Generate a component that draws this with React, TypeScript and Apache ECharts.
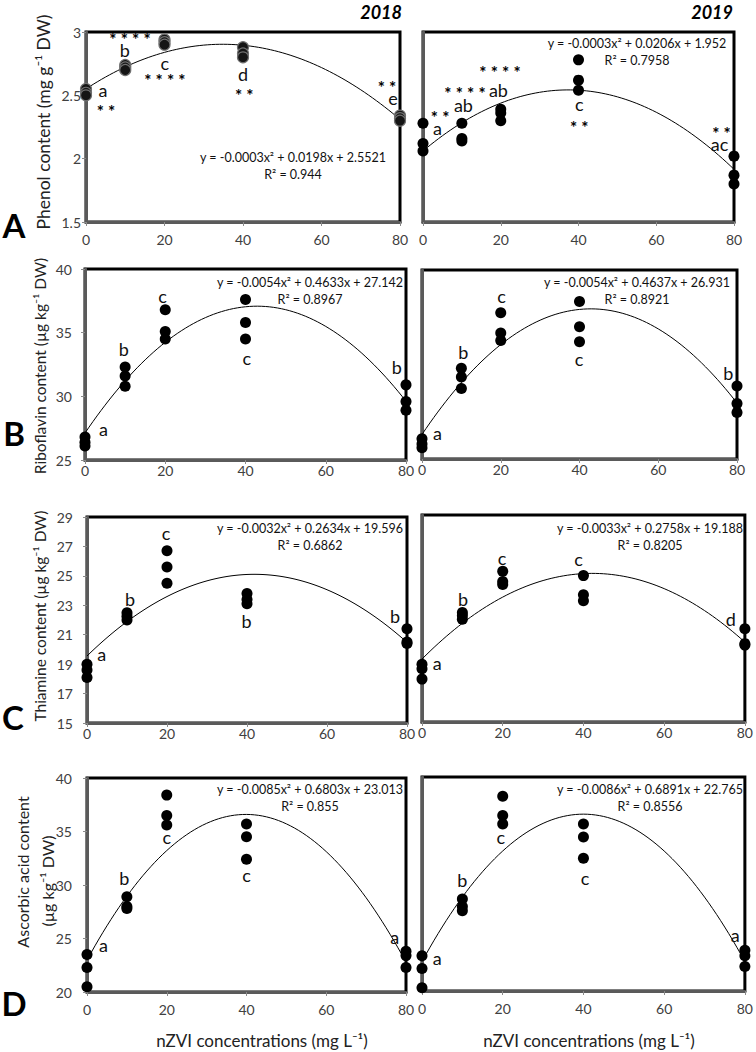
import React, { useEffect, useRef } from "react";
import * as echarts from "echarts";

// nZVI doses (mg/L)
const doses = [0, 10, 20, 40, 80];

// three replicate values per dose
const phenol2018 = [[2.55, 2.52, 2.5], [2.74, 2.72, 2.7], [2.94, 2.92, 2.9], [2.88, 2.83, 2.8], [2.34, 2.32, 2.3]];
const phenol2019 = [[2.28, 2.12, 2.06], [2.28, 2.16, 2.14], [2.39, 2.36, 2.3], [2.78, 2.62, 2.54], [2.02, 1.87, 1.8]];
const riboflavin2018 = [[26.8, 26.4, 26.1], [32.3, 31.6, 30.8], [36.8, 35.1, 34.5], [37.6, 35.8, 34.5], [30.9, 29.6, 28.9]];
const riboflavin2019 = [[26.6, 26.2, 25.9], [32.2, 31.5, 30.6], [36.6, 35.0, 34.4], [37.5, 35.5, 34.3], [30.8, 29.4, 28.7]];
const thiamine2018 = [[19.0, 18.6, 18.1], [22.5, 22.25, 22.0], [26.7, 25.6, 24.5], [23.8, 23.4, 23.1], [21.4, 20.5, 20.4]];
const thiamine2019 = [[18.9, 18.6, 17.9], [22.4, 22.2, 21.95], [25.2, 24.5, 24.3], [24.9, 23.6, 23.2], [21.3, 20.3, 20.2]];
const ascorbic2018 = [[23.5, 22.3, 20.5], [28.9, 28.0, 27.8], [38.4, 36.5, 35.6], [35.7, 34.5, 32.4], [23.8, 23.4, 22.3]];
const ascorbic2019 = [[23.3, 22.1, 20.3], [28.6, 27.9, 27.5], [38.2, 36.4, 35.6], [35.6, 34.4, 32.4], [23.8, 23.3, 22.3]];

// significance annotations: [x, y, text]
const phenol2018Marks: [number, number, string][] = [
  [11.2, 2.97, "* * * *"], [9.9, 2.855, "b"], [20.1, 2.755, "c"], [20.1, 2.645, "* * * *"],
  [4.3, 2.54, "a"], [5.1, 2.405, "* *"], [40, 2.67, "d"], [40.3, 2.53, "* *"], [76.7, 2.59, "* *"], [78.2, 2.48, "e"],
];
const phenol2019Marks: [number, number, string][] = [
  [4.4, 2.355, "* *"], [3.7, 2.245, "a"], [10.8, 2.55, "* * * *"], [10.4, 2.42, "ab"], [19.8, 2.715, "* * * *"],
  [19.4, 2.54, "ab"], [40.2, 2.43, "c"], [40.2, 2.28, "* *"], [76.8, 2.23, "* *"], [76.3, 2.115, "ac"],
];
const riboflavin2018Marks: [number, number, string][] = [[4.6, 27.4, "a"], [9.7, 33.7, "b"], [19.3, 37.85, "c"], [40.3, 33.0, "c"], [77.7, 32.3, "b"]];
const riboflavin2019Marks: [number, number, string][] = [[3.9, 27.1, "a"], [10.5, 33.5, "b"], [20.2, 37.9, "c"], [39.9, 32.9, "c"], [77.8, 31.8, "b"]];
const thiamine2018Marks: [number, number, string][] = [[3.7, 19.7, "a"], [10.75, 23.45, "b"], [19.75, 27.9, "c"], [39.9, 21.9, "b"], [77, 22.3, "b"]];
const thiamine2019Marks: [number, number, string][] = [[3.8, 19.0, "a"], [10.2, 23.35, "b"], [19.85, 26.1, "c"], [38.8, 26.0, "c"], [76.5, 22.0, "d"]];
const ascorbic2018Marks: [number, number, string][] = [[4.1, 24.4, "a"], [9.35, 30.7, "b"], [20, 34.45, "c"], [40, 30.9, "c"], [77.2, 25.1, "a"]];
const ascorbic2019Marks: [number, number, string][] = [[3.75, 23.1, "a"], [10, 30.4, "b"], [19.55, 34.35, "c"], [40.4, 30.6, "c"], [77.6, 25.2, "a"]];

const equations = [
  ["y = -0.0003x² + 0.0198x + 2.5521", "R² = 0.944"],
  ["y = -0.0003x² + 0.0206x + 1.952", "R² = 0.7958"],
  ["y = -0.0054x² + 0.4633x + 27.142", "R² = 0.8967"],
  ["y = -0.0054x² + 0.4637x + 26.931", "R² = 0.8921"],
  ["y = -0.0032x² + 0.2634x + 19.596", "R² = 0.6862"],
  ["y = -0.0033x² + 0.2758x + 19.188", "R² = 0.8205"],
  ["y = -0.0085x² + 0.6803x + 23.013", "R² = 0.855"],
  ["y = -0.0086x² + 0.6891x + 22.765", "R² = 0.8556"],
];

const yTitles = ["Phenol content (mg g⁻¹ DW)", "Riboflavin content (µg kg⁻¹ DW)", "Thiamine content (µg kg⁻¹ DW)"];
const yTitleD = ["Ascorbic acid content", "(µg kg⁻¹ DW)"];
const xTitle = "nZVI concentrations (mg L⁻¹)";
const years = ["2018", "2019"];
const panelLetters = ["A", "B", "C", "D"];

const yRanges = [
  { min: 1.5, max: 3, interval: 0.5 },
  { min: 25, max: 40, interval: 5 },
  { min: 15, max: 29, interval: 2 },
  { min: 20, max: 40, interval: 5 },
];

const FONT = "Lato, 'Open Sans', sans-serif";

function fitQuad(pts: number[][]) {
  let s0 = 0, s1 = 0, s2 = 0, s3 = 0, s4 = 0, t0 = 0, t1 = 0, t2 = 0;
  for (const [x, y] of pts) {
    s0 += 1; s1 += x; s2 += x * x; s3 += x ** 3; s4 += x ** 4;
    t0 += y; t1 += x * y; t2 += x * x * y;
  }
  const M = [[s4, s3, s2, t2], [s3, s2, s1, t1], [s2, s1, s0, t0]];
  for (let i = 0; i < 3; i++) {
    for (let j = i + 1; j < 3; j++) {
      const f = M[j][i] / M[i][i];
      for (let k = i; k < 4; k++) M[j][k] -= f * M[i][k];
    }
  }
  const r = [0, 0, 0];
  for (let i = 2; i >= 0; i--) {
    let v = M[i][3];
    for (let k = i + 1; k < 3; k++) v -= M[i][k] * r[k];
    r[i] = v / M[i][i];
  }
  return r; // a, b, c
}

export default function App() {
  const ref = useRef<HTMLDivElement>(null);
  useEffect(() => {
    if (!ref.current) return;
    const chart = echarts.init(ref.current, undefined, { renderer: "svg" });

    const datasets = [phenol2018, phenol2019, riboflavin2018, riboflavin2019, thiamine2018, thiamine2019, ascorbic2018, ascorbic2019];
    const marks = [phenol2018Marks, phenol2019Marks, riboflavin2018Marks, riboflavin2019Marks, thiamine2018Marks, thiamine2019Marks, ascorbic2018Marks, ascorbic2019Marks];

    const grids = [
      { left: 86, top: 32, width: 314, height: 190 },
      { left: 423, top: 32, width: 311, height: 190 },
      { left: 85, top: 269, width: 321, height: 191 },
      { left: 422, top: 270, width: 315, height: 189 },
      { left: 87, top: 517, width: 320, height: 206 },
      { left: 422, top: 515, width: 324, height: 207 },
      { left: 87, top: 778, width: 319, height: 214 },
      { left: 422, top: 777, width: 326, height: 214 },
    ];
    const xLabelMargin = [10, 10, 3, 3, 3, 3, 10, 10];
    const yLabelMargin = [5, 13, 14, 15];
    const eqPos = [
      [293, 157], [637, 43], [310, 282], [637, 282], [310, 528], [650, 528], [310, 789], [650, 789],
    ];

    const xAxis: any[] = [];
    const yAxis: any[] = [];
    const series: any[] = [];
    const graphic: any[] = [];

    grids.forEach((g, i) => {
      const row = Math.floor(i / 2);
      const isLeft = i % 2 === 0;
      xAxis.push({
        gridIndex: i, type: "value", min: 0, max: 80, interval: 20,
        axisLine: { show: true, onZero: false, lineStyle: { color: "#5a5a5a", width: 3 } },
        axisTick: { show: true, length: 4, lineStyle: { color: "#8a8a8a", width: 1 } },
        axisLabel: { fontSize: 14, color: "#404040", fontFamily: FONT, margin: xLabelMargin[i] },
        splitLine: { show: false },
      });
      yAxis.push({
        gridIndex: i, type: "value", ...yRanges[row],
        axisLine: { show: true, onZero: false, lineStyle: { color: "#5a5a5a", width: 3 } },
        axisTick: { show: isLeft, length: 4, lineStyle: { color: "#8a8a8a", width: 1 } },
        axisLabel: { show: isLeft, fontSize: 14, color: "#404040", fontFamily: FONT, margin: yLabelMargin[row] },
        splitLine: { show: false },
      });
      const pts: number[][] = [];
      datasets[i].forEach((vals, k) => vals.forEach((v) => pts.push([doses[k], v])));
      const [a, b, c] = fitQuad(pts);
      const curve: number[][] = [];
      for (let x = 0; x <= 80; x += 1) curve.push([x, a * x * x + b * x + c]);
      series.push({
        type: "line", xAxisIndex: i, yAxisIndex: i, data: curve, showSymbol: false, smooth: false,
        lineStyle: { color: "#000", width: 1 }, z: 2, silent: true,
      });
      series.push({
        type: "scatter", xAxisIndex: i, yAxisIndex: i, data: pts, symbolSize: 11,
        itemStyle: i === 0
          ? { color: "#151515", borderColor: "#707070", borderWidth: 1.2, opacity: 1 }
          : { color: "#000", opacity: 1 },
        z: 3,
      });
      series.push({
        type: "scatter", xAxisIndex: i, yAxisIndex: i, symbolSize: 0, silent: true, z: 4,
        itemStyle: { opacity: 1 },
        data: marks[i].map(([x, y, t]) => ({
          value: [x, y], name: t,
          label: t.includes("*")
            ? { show: true, position: "inside", formatter: "{b}", fontSize: 17, fontWeight: "bold", lineHeight: 9, color: "#000", fontFamily: FONT, offset: [0, 4] }
            : { show: true, position: "inside", formatter: "{b}", fontSize: 18, lineHeight: 13, color: "#111", fontFamily: FONT },
        })),
      });
      graphic.push({
        type: "text", x: eqPos[i][0], y: eqPos[i][1],
        style: { text: equations[i][0], fontSize: 12.5, fontFamily: FONT, fill: "#111", textAlign: "center", textVerticalAlign: "middle" },
      });
      graphic.push({
        type: "text", x: eqPos[i][0], y: eqPos[i][1] + 17,
        style: { text: equations[i][1], fontSize: 12.5, fontFamily: FONT, fill: "#111", textAlign: "center", textVerticalAlign: "middle" },
      });
    });

    // Y titles
    const yTitlePos = [[43, 122], [40, 366], [40, 616]];
    yTitles.forEach((t, r) => {
      graphic.push({
        type: "text", x: yTitlePos[r][0], y: yTitlePos[r][1], rotation: Math.PI / 2,
        style: { text: t, fontSize: r === 0 ? 17.5 : 15.5, fontFamily: FONT, fill: "#222", textAlign: "center", textVerticalAlign: "middle" },
      });
    });
    graphic.push({
      type: "text", x: 22, y: 872, rotation: Math.PI / 2,
      style: { text: yTitleD[0], fontSize: 16, fontFamily: FONT, fill: "#222", textAlign: "center", textVerticalAlign: "middle" },
    });
    graphic.push({
      type: "text", x: 47, y: 881, rotation: Math.PI / 2,
      style: { text: yTitleD[1], fontSize: 16, fontFamily: FONT, fill: "#222", textAlign: "center", textVerticalAlign: "middle" },
    });
    // X titles
    [262, 589].forEach((cx) => {
      graphic.push({
        type: "text", x: cx, y: 1040,
        style: { text: xTitle, fontSize: 17, fontFamily: FONT, fill: "#222", textAlign: "center", textVerticalAlign: "middle" },
      });
    });
    // Years
    [[402, 12], [733, 12]].forEach(([x, y], k) => {
      graphic.push({
        type: "text", x, y,
        style: { text: years[k], fontSize: 18, fontWeight: "bold", fontStyle: "italic", fontFamily: FONT, fill: "#000", textAlign: "right", textVerticalAlign: "middle" },
      });
    });
    // Panel letters
    [[14, 225], [14, 433], [13, 717], [14, 1003]].forEach(([x, y], k) => {
      graphic.push({
        type: "text", x, y,
        style: { text: panelLetters[k], fontSize: 33, fontWeight: "bold", fontFamily: FONT, fill: "#000", textAlign: "center", textVerticalAlign: "middle" },
      });
    });

    chart.setOption({
      animation: false,
      backgroundColor: "#fff",
      grid: grids.map((g) => ({ ...g, show: true, borderColor: "#000", borderWidth: 3, backgroundColor: "transparent" })),
      xAxis, yAxis, series, graphic,
    });
    return () => chart.dispose();
  }, []);
  return <div ref={ref} style={{ position: "absolute", left: 0, top: 0, width: 756, height: 1052 }} />;
}
